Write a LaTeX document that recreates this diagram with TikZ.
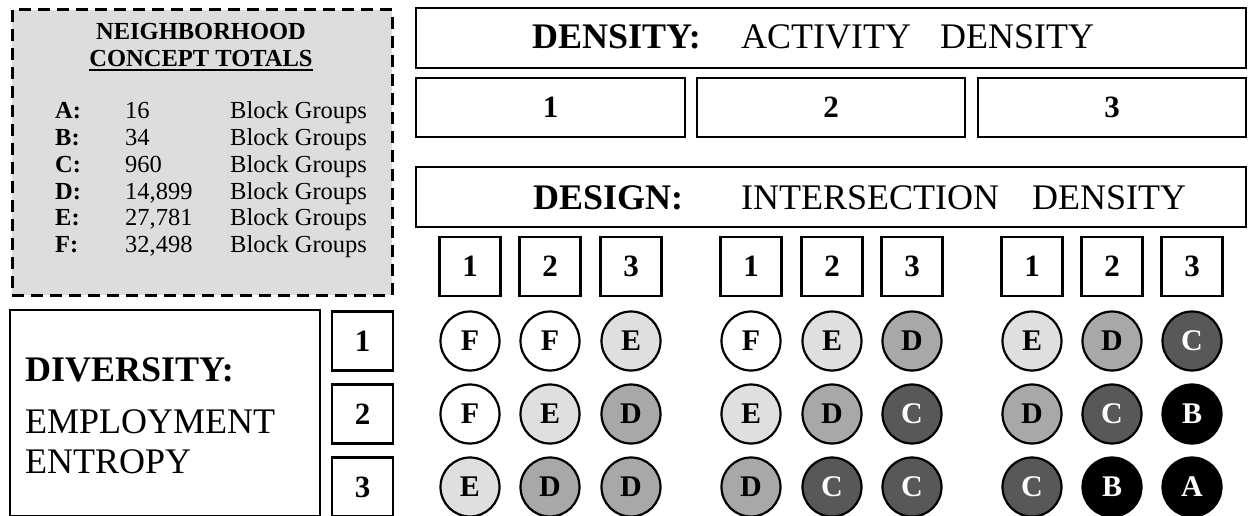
\documentclass[tikz,border=0pt]{standalone}
\usepackage{fontspec}
\setmainfont{Liberation Serif}
\definecolor{panelgray}{HTML}{DDDDDD}
\definecolor{lightg}{HTML}{DFDFDF}
\definecolor{midg}{HTML}{A8A8A8}
\definecolor{darkg}{HTML}{585858}
\begin{document}
\begin{tikzpicture}[x=1pt,y=-1pt,
  box/.style={draw=black, line width=2.6pt, fill=white, inner sep=0pt, outer sep=0pt},
  dig/.style={font=\fontsize{31}{34}\selectfont\bfseries},
  big/.style={font=\fontsize{36}{40}\selectfont, inner sep=0pt, anchor=base west},
  bigb/.style={font=\fontsize{36}{40}\selectfont\bfseries, inner sep=0pt, anchor=base west},
  lst/.style={font=\fontsize{24.5}{28}\selectfont, inner sep=0pt, anchor=base west},
  lstb/.style={font=\fontsize{24.5}{28}\selectfont\bfseries, inner sep=0pt, anchor=base west},
  ttl/.style={font=\fontsize{24.5}{28}\selectfont\bfseries, inner sep=0pt, anchor=base},
  sq/.style={box, minimum width=61pt, minimum height=59pt, dig},
  circ/.style={circle, draw=black, line width=2.2pt, minimum size=59pt, inner sep=0pt,
               font=\fontsize{30}{34}\selectfont\bfseries},
  cf/.style={circ, fill=white, text=black},
  ce/.style={circ, fill=lightg, text=black},
  cd/.style={circ, fill=midg, text=black},
  cc/.style={circ, fill=darkg, text=white},
  cb/.style={circ, fill=black, text=white},
  ca/.style={circ, fill=black, text=white}
]
\useasboundingbox (0,0) rectangle (1248,516);

% ---- Neighborhood panel
\node[draw=black, fill=panelgray, line width=3pt, dash pattern=on 12pt off 7pt,
      minimum width=380pt, minimum height=285pt, inner sep=0pt] (panel) at (202,152.5) {};
\node[ttl] (t1) at (201,40) {NEIGHBORHOOD};
\node[ttl] (t2) at (201,67) {CONCEPT TOTALS};
\draw[line width=1.6pt] ([yshift=-2.8pt]t2.base west) -- ([yshift=-2.8pt]t2.base east);
\foreach \l/\n/\y [count=\i] in {A/16/119, B/34/146, C/960/172.5, D/{14,899}/199, E/{27,781}/225.5, F/{32,498}/252}{
  \node[lstb] (L\i) at (55,\y) {\l:};
  \node[lst] (N\i) at (125,\y) {\n};
  \node[lst] (G\i) at (230,\y) {Block Groups};
}

% ---- Diversity
\node[box, minimum width=310pt, minimum height=206pt] (div) at (165,413) {};
\node[bigb] (dv1) at (25,381) {DIVERSITY:};
\node[big] (dv2) at (25,433) {EMPLOYMENT};
\node[big] (dv3) at (25,473) {ENTROPY};
\node[sq] (r1) at (362.5,341) {1};
\node[sq] (r2) at (362.5,414) {2};
\node[sq] (r3) at (362.5,487) {3};

% ---- Density
\node[box, minimum width=830pt, minimum height=60pt] (dens) at (831,38) {};
\node[bigb] (dt1) at (532,49) {DENSITY:};
\node[big] (dt2) at (741,49) {ACTIVITY};
\node[big] (dt3) at (940,49) {DENSITY};
\node[box, dig, minimum width=269pt, minimum height=59pt] (d1) at (550.5,107.5) {1};
\node[box, dig, minimum width=268pt, minimum height=59pt] (d2) at (831,107.5) {2};
\node[box, dig, minimum width=268pt, minimum height=59pt] (d3) at (1112,107.5) {3};

% ---- Design
\node[box, minimum width=830pt, minimum height=60pt] (des) at (831,197) {};
\node[bigb] (de1) at (533,209) {DESIGN:};
\node[big] (de2) at (741,209) {INTERSECTION};
\node[big] (de3) at (1032,209) {DENSITY};

\foreach \x/\t [count=\i] in {470/1,550/2,631/3,751/1,832/2,912/3,1032/1,1112/2,1192/3}{
  \node[sq] (s\i) at (\x,266.5) {\t};
}

% ---- circles
\foreach \x/\y/\s/\l [count=\i] in {
  470/341/cf/F, 550/341/cf/F, 631/341/ce/E,
  470/414/cf/F, 550/414/ce/E, 631/414/cd/D,
  470/487/ce/E, 550/487/cd/D, 631/487/cd/D,
  751/341/cf/F, 832/341/ce/E, 912/341/cd/D,
  751/414/ce/E, 832/414/cd/D, 912/414/cc/C,
  751/487/cd/D, 832/487/cc/C, 912/487/cc/C,
  1032/341/ce/E, 1112/341/cd/D, 1192/341/cc/C,
  1032/414/cd/D, 1112/414/cc/C, 1192/414/cb/B,
  1032/487/cc/C, 1112/487/cb/B, 1192/487/ca/A}{
  \node[\s] (c\i) at (\x,\y) {\l};
}
\end{tikzpicture}
\end{document}
